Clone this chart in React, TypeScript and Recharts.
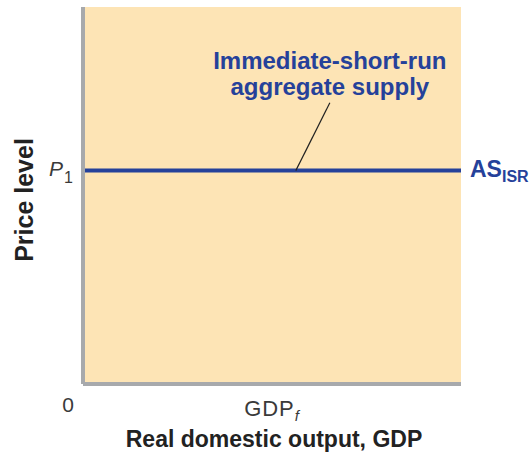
import React from "react";
import {
  ComposedChart,
  Line,
  XAxis,
  YAxis,
  ReferenceArea,
  ReferenceLine,
  ReferenceDot,
  Label,
} from "recharts";

// axes run 0..100 (no units shown in the figure)
const outputs = [0, 100];
const P1 = 56.6;
const GDP_F = 50;
const priceLevels = [P1, P1];

const xTicks = [0, GDP_F];
const yTicks = [P1];

const leaderTop = { x: 65.3, y: 74.6 };
const leaderEnd = { x: 56.3, y: P1 };

const annotationLines = ["Immediate-short-run", "aggregate supply"];

const FONT = "'Liberation Sans', Arial, Helvetica, sans-serif";
const BLUE = "#25419a";
const GRAY = "#a7a9ac";
const FILL = "#fde4b5";
const TEXT = "#3a3a3a";

const data = outputs.map((o, i) => ({ output: o, price: priceLevels[i] }));

function XTick(props: any) {
  const { x, y, payload } = props;
  if (payload.value === 0) {
    return (
      <text x={x - 15} y={y + 20} textAnchor="middle" fontFamily={FONT} fontSize={21} fill={TEXT}>
        0
      </text>
    );
  }
  return (
    <text x={x} y={y + 24} textAnchor="middle" fontFamily={FONT} fontSize={22} letterSpacing={0.9} fill={TEXT}>
      GDP
      <tspan fontSize={15} fontStyle="italic" dy={5}>f</tspan>
    </text>
  );
}

function YTick(props: any) {
  const { x, y } = props;
  return (
    <text x={x - 2} y={y + 5} textAnchor="end" fontFamily={FONT} fontSize={21} fill={TEXT}>
      <tspan fontStyle="italic">P</tspan>
      <tspan fontSize={16} dx={1} dy={7}>1</tspan>
    </text>
  );
}

export default function App() {
  return (
    <div style={{ position: "absolute", left: 0, top: 0, width: 532, height: 454, background: "#fff" }}>
      <ComposedChart
        width={532}
        height={454}
        data={data}
        margin={{ top: 7, right: 71, bottom: 0, left: 0 }}
      >
        <ReferenceArea x1={0} x2={100} y1={0} y2={100} fill={FILL} fillOpacity={1} stroke="none" />
        <XAxis
          type="number"
          dataKey="output"
          domain={[0, 100]}
          ticks={xTicks}
          tick={<XTick />}
          tickLine={false}
          axisLine={{ stroke: GRAY, strokeWidth: 4 }}
          height={70}
        >
          <Label
            content={(p: any) => {
              const vb = p.viewBox;
              return (
                <text
                  x={274}
                  y={vb.y + 63}
                  textAnchor="middle"
                  fontFamily={FONT}
                  fontWeight="bold"
                  fontSize={23}
                  fill="#222"
                >
                  Real domestic output, GDP
                </text>
              );
            }}
          />
        </XAxis>
        <YAxis
          type="number"
          domain={[0, 100]}
          ticks={yTicks}
          tick={<YTick />}
          tickLine={false}
          axisLine={{ stroke: GRAY, strokeWidth: 4 }}
          width={83}
        >
          <Label
            content={() => (
              <text
                x={33}
                y={200}
                transform="rotate(-90 33 200)"
                textAnchor="middle"
                fontFamily={FONT}
                fontWeight="bold"
                fontSize={25}
                fill="#222"
              >
                Price level
              </text>
            )}
          />
        </YAxis>
        <Line
          dataKey="price"
          stroke={BLUE}
          strokeWidth={4}
          dot={false}
          activeDot={false}
          isAnimationActive={false}
        />
        <ReferenceLine
          segment={[leaderTop, leaderEnd]}
          stroke="#222"
          strokeWidth={1.2}
        />
        <ReferenceDot
          x={leaderTop.x}
          y={leaderTop.y}
          r={0}
          stroke="none"
          label={(p: any) => {
            const cx = p.viewBox.x;
            const cy = p.viewBox.y;
            return (
              <text textAnchor="middle" fontFamily={FONT} fontWeight="bold" fontSize={24} fill={BLUE}>
                <tspan x={cx} y={cy - 34}>{annotationLines[0]}</tspan>
                <tspan x={cx} y={cy - 8}>{annotationLines[1]}</tspan>
              </text>
            );
          }}
        />
        <ReferenceDot
          x={100}
          y={P1}
          r={0}
          stroke="none"
          label={(p: any) => (
            <text x={p.viewBox.x + 9} y={p.viewBox.y + 6} fontFamily={FONT} fontWeight="bold" fontSize={23} fill={BLUE}>
              AS
              <tspan fontSize={16} dy={5}>ISR</tspan>
            </text>
          )}
        />
      </ComposedChart>
    </div>
  );
}
